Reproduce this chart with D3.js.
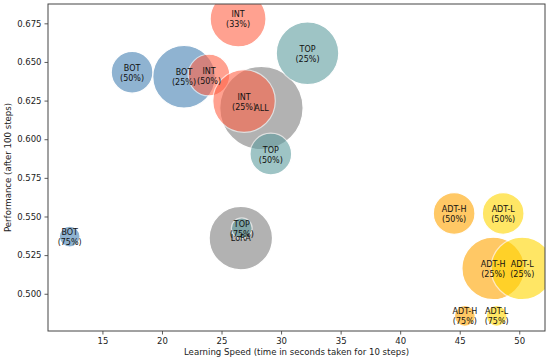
<!DOCTYPE html>
<html>
<head>
<meta charset="utf-8">
<script src="https://cdn.jsdelivr.net/npm/d3@7"></script>
<style>
  body { margin: 0; background: #fff; }
  svg { font-family: "DejaVu Sans", sans-serif; }
</style>
</head>
<body>
<svg width="550" height="360"></svg>
<script>
// one entry per bubble
var methods  = ["ALL", "LoRA", "BOT", "BOT", "BOT", "INT", "INT", "INT", "TOP", "TOP", "TOP",
                "ADT-H", "ADT-H", "ADT-H", "ADT-L", "ADT-L", "ADT-L"];
var frozen   = ["", "", "75%", "50%", "25%", "50%", "33%", "25%", "50%", "25%", "75%",
                "50%", "25%", "75%", "50%", "25%", "75%"];
var speed    = [28.35, 26.62, 12.25, 17.49, 21.85, 23.95, 26.39, 26.89, 29.14, 32.22, 26.7,
                44.53, 47.81, 45.43, 48.65, 50.25, 48.1];
var perf     = [0.6202, 0.536, 0.537, 0.6433, 0.6404, 0.6415, 0.6778, 0.6247, 0.5904, 0.6556, 0.5424,
                0.552, 0.5164, 0.4857, 0.552, 0.5164, 0.4857];
var trainable = [1.0, 0.76, 0.25, 0.5, 0.75, 0.5, 0.67, 0.75, 0.5, 0.75, 0.25,
                 0.5, 0.75, 0.25, 0.5, 0.75, 0.25];

var xTicks = [15, 20, 25, 30, 35, 40, 45, 50];
var yTicks = [0.500, 0.525, 0.550, 0.575, 0.600, 0.625, 0.650, 0.675];

var methodColors = {
  "ALL": "grey", "LoRA": "grey", "BOT": "steelblue", "INT": "tomato",
  "TOP": "cadetblue", "ADT-H": "orange", "ADT-L": "gold"
};

var svg = d3.select("svg"),
    margin = {top: 4, right: 5, bottom: 29, left: 48},
    width = +svg.attr("width") - margin.left - margin.right,
    height = +svg.attr("height") - margin.top - margin.bottom;

var x = d3.scaleLinear().domain([10.43, 52.16]).range([0, width]);
var y = d3.scaleLinear().domain([0.4759, 0.6875]).range([height, 0]);
var r = d3.scaleLinear().domain([0, 1]).range([0, 41.7]);

var data = methods.map(function(m, i) {
  return {method: m, frozen: frozen[i], speed: speed[i], perf: perf[i], size: trainable[i]};
});

var g = svg.append("g").attr("transform", "translate(" + margin.left + "," + margin.top + ")");

svg.append("defs").append("clipPath").attr("id", "plot")
  .append("rect").attr("width", width).attr("height", height);

var plot = g.append("g").attr("clip-path", "url(#plot)");

plot.selectAll("circle")
  .data(data)
  .enter().append("circle")
  .attr("cx", function(d) { return x(d.speed); })
  .attr("cy", function(d) { return y(d.perf); })
  .attr("r", function(d) { return r(d.size); })
  .attr("fill", function(d) { return methodColors[d.method]; })
  .attr("stroke", "#fff")
  .attr("stroke-width", 1.2)
  .attr("opacity", 0.6);

// labels on top of all bubbles
var labels = plot.selectAll("text.lbl")
  .data(data)
  .enter().append("text")
  .attr("class", "lbl")
  .attr("text-anchor", "middle")
  .attr("font-size", 8)
  .attr("fill", "#111")
  .attr("transform", function(d) { return "translate(" + x(d.speed) + "," + y(d.perf) + ")"; });

labels.each(function(d) {
  var t = d3.select(this);
  if (d.frozen) {
    t.append("tspan").attr("x", 0).attr("y", -1.5).text(d.method);
    t.append("tspan").attr("x", 0).attr("y", 8.5).text("(" + d.frozen + ")");
  } else {
    t.append("tspan").attr("x", 0).attr("y", 3).text(d.method);
  }
});

// axes
var xAxis = g.append("g")
  .attr("transform", "translate(0," + height + ")")
  .call(d3.axisBottom(x).tickValues(xTicks).tickSize(3.5).tickPadding(3));

var yAxis = g.append("g")
  .call(d3.axisLeft(y).tickValues(yTicks).tickFormat(d3.format(".3f")).tickSize(3.5).tickPadding(3));

[xAxis, yAxis].forEach(function(a) {
  a.select(".domain").remove();
  a.selectAll("line").attr("stroke", "#333").attr("stroke-width", 0.8);
  a.selectAll("text").attr("font-size", 8.5).attr("fill", "#222")
    .attr("font-family", "DejaVu Sans");
});

// frame
g.append("rect")
  .attr("width", width).attr("height", height)
  .attr("fill", "none").attr("stroke", "#444").attr("stroke-width", 1);

svg.append("text")
  .attr("x", margin.left + width / 2).attr("y", 355)
  .attr("text-anchor", "middle").attr("font-size", 8.6).attr("fill", "#222")
  .text("Learning Speed (time in seconds taken for 10 steps)");

svg.append("text")
  .attr("transform", "translate(11," + (margin.top + height / 2) + ") rotate(-90)")
  .attr("text-anchor", "middle").attr("font-size", 8.6).attr("fill", "#222")
  .text("Performance (after 100 steps)");
</script>
</body>
</html>
